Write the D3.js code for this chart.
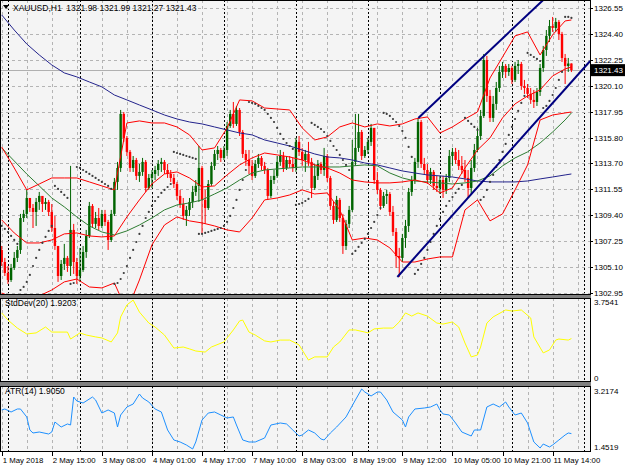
<!DOCTYPE html>
<html>
<head>
<meta charset="utf-8">
<title>XAUUSD,H1</title>
<script src="https://cdn.jsdelivr.net/npm/d3@7"></script>
<style>
  html, body { margin: 0; padding: 0; background: #ffffff; }
  #chart { display: block; }
  #chart text { font-family: "Liberation Sans", Arial, sans-serif; font-size: 8.5px; fill: #000; }
  #chart text.p { font-size: 8px; }
  #chart text.t { font-size: 7.8px; }
</style>
</head>
<body>
<svg id="chart" width="625" height="469"></svg>
<script>
/**
 * H1 candles, 1 May 22:00 .. 11 May 20:00 (open of a bar = close of the previous bar)
 */
const firstOpen = 1306.52;
const closes = [
  1305.52,1304.61,1304.03,1305.03,1305.86,1306.52,1309.17,1309.51,1310.83,1310.00,
  1309.67,1310.50,1311.00,1310.33,1310.50,1309.67,1308.34,1306.85,1304.36,1305.36,
  1305.86,1305.19,1308.18,1305.52,1304.36,1304.86,1306.35,1307.68,1310.17,1308.68,
  1309.17,1308.51,1309.51,1308.84,1307.35,1309.51,1312.16,1313.32,1317.80,1315.81,
  1314.65,1313.32,1313.98,1312.66,1312.99,1313.82,1311.66,1312.49,1312.82,1313.15,
  1313.65,1313.82,1313.15,1312.82,1312.49,1311.99,1311.00,1310.33,1309.34,1309.84,
  1310.50,1311.33,1311.83,1313.32,1310.67,1310.00,1311.99,1313.49,1314.48,1314.81,
  1314.15,1314.81,1316.80,1317.80,1316.97,1318.13,1316.30,1314.48,1313.98,1313.49,
  1312.66,1313.65,1314.15,1313.49,1313.15,1311.00,1312.32,1312.66,1313.82,1314.31,
  1313.32,1313.98,1313.65,1313.32,1315.48,1314.65,1313.98,1314.48,1313.82,1311.66,
  1312.66,1313.65,1313.15,1314.31,1312.49,1310.17,1309.01,1310.67,1309.17,1306.85,
  1308.68,1309.84,1313.82,1314.98,1316.30,1314.31,1314.81,1315.48,1316.64,1312.32,
  1311.50,1310.17,1311.00,1311.16,1309.67,1308.01,1306.02,1305.86,1307.51,1308.51,
  1311.33,1312.32,1313.82,1317.13,1313.65,1313.15,1312.32,1312.99,1311.83,1311.66,
  1312.32,1311.50,1312.49,1314.31,1314.65,1313.98,1313.49,1313.15,1312.49,1311.66,
  1313.32,1314.81,1315.97,1317.63,1322.27,1319.29,1317.47,1318.63,1319.95,1321.28,
  1321.78,1321.28,1321.61,1320.62,1321.78,1321.94,1320.12,1319.95,1319.46,1318.96,
  1318.79,1319.62,1321.61,1323.10,1324.27,1325.09,1324.93,1325.43,1324.43,1322.44,
  1321.78,1321.98,1321.43
];
const highs = [
  1306.85,1305.86,1305.19,1305.36,1306.35,1306.85,1309.51,1309.84,1311.50,1310.83,
  1310.33,1310.83,1311.33,1310.83,1310.83,1310.67,1310.33,1309.34,1306.85,1305.69,
  1307.02,1306.02,1313.49,1308.68,1305.86,1306.69,1306.85,1308.18,1310.50,1310.33,
  1309.67,1310.00,1309.84,1309.84,1309.01,1309.84,1312.49,1313.82,1318.13,1317.96,
  1315.97,1314.81,1314.31,1314.15,1313.65,1314.15,1313.98,1312.82,1313.15,1313.49,
  1313.98,1314.15,1313.98,1313.65,1313.15,1312.82,1312.16,1311.50,1310.83,1310.17,
  1310.83,1311.83,1312.32,1315.14,1313.49,1311.50,1312.32,1313.82,1314.81,1315.14,
  1314.98,1315.14,1317.13,1318.13,1318.79,1318.46,1318.29,1316.47,1314.81,1314.81,
  1313.98,1313.98,1314.48,1314.31,1313.82,1313.32,1312.66,1313.15,1314.31,1314.81,
  1314.65,1314.31,1314.31,1314.15,1315.81,1315.97,1314.98,1314.81,1315.48,1314.15,
  1313.65,1313.98,1313.82,1314.98,1314.48,1312.66,1310.50,1311.00,1310.83,1309.51,
  1309.01,1310.17,1315.64,1317.80,1317.80,1316.47,1315.14,1315.81,1316.97,1316.64,
  1312.99,1311.66,1311.33,1311.50,1311.33,1310.17,1308.34,1306.69,1307.85,1309.01,
  1311.66,1312.66,1314.15,1317.47,1317.30,1314.15,1313.65,1313.32,1313.15,1312.66,
  1312.66,1312.66,1312.82,1314.81,1314.98,1314.98,1314.81,1314.31,1313.98,1313.15,
  1313.98,1315.31,1316.64,1318.13,1322.77,1322.61,1319.79,1319.29,1320.45,1321.78,
  1322.11,1321.94,1321.94,1321.78,1322.11,1322.27,1322.11,1320.62,1320.28,1319.95,
  1319.79,1319.95,1321.94,1323.44,1324.76,1325.59,1325.84,1325.76,1325.59,1324.60,
  1322.77,1322.44,1321.99
];
const lows = [
  1305.19,1304.36,1303.70,1303.87,1304.86,1305.52,1306.19,1308.84,1309.17,1309.67,
  1308.34,1308.51,1309.84,1309.67,1309.84,1309.34,1308.01,1306.52,1303.87,1304.03,
  1304.86,1304.70,1304.36,1304.53,1303.70,1303.87,1304.70,1305.86,1307.51,1308.34,
  1308.34,1308.18,1308.34,1308.51,1306.52,1307.18,1309.34,1311.50,1312.99,1315.48,
  1314.31,1312.99,1312.99,1312.32,1312.16,1312.66,1311.33,1311.50,1311.66,1312.32,
  1312.66,1312.99,1312.82,1312.49,1312.16,1311.66,1310.67,1310.00,1309.01,1308.51,
  1309.34,1310.00,1311.00,1310.50,1307.85,1308.68,1309.84,1311.83,1313.15,1313.98,
  1313.82,1313.98,1314.31,1316.64,1316.64,1316.80,1315.97,1314.15,1313.49,1312.82,
  1312.32,1312.49,1313.32,1313.15,1312.82,1310.67,1310.83,1311.99,1312.49,1313.49,
  1312.99,1313.15,1313.32,1312.99,1312.99,1314.31,1313.49,1312.99,1313.49,1310.83,
  1311.50,1312.32,1312.82,1312.66,1312.16,1309.84,1308.68,1308.84,1308.84,1306.19,
  1306.52,1308.34,1309.67,1313.49,1314.65,1313.98,1314.15,1314.48,1315.14,1311.99,
  1311.16,1309.84,1310.00,1310.33,1309.34,1307.68,1305.03,1304.28,1305.52,1306.69,
  1308.01,1311.00,1311.99,1313.32,1313.32,1312.82,1311.99,1311.99,1311.50,1311.33,
  1311.16,1310.83,1311.16,1312.16,1313.49,1313.65,1313.15,1312.82,1312.16,1310.83,
  1311.16,1312.99,1314.65,1315.64,1317.47,1318.79,1317.13,1317.13,1318.13,1319.62,
  1320.78,1320.78,1320.95,1320.28,1320.45,1321.11,1319.79,1319.46,1319.12,1318.63,
  1318.29,1318.46,1319.29,1321.28,1322.61,1323.77,1324.60,1324.60,1323.93,1322.11,
  1320.28,1321.28,1321.27
];

/**
 * Parabolic SAR, one dot per bar
 */
const sar = [
  1308.51,1308.26,1308.01,1307.68,1307.35,1307.02,
  1303.20,1303.45,1303.87,1304.45,1305.19,1305.86,1306.52,1307.10,1307.60,1308.10,1308.51,
  1311.83,1311.58,1311.33,1311.08,1310.83,
  1303.70,1303.78,
  1313.40,1313.32,1313.15,1312.99,1312.82,1312.66,1312.49,1312.32,1312.16,1311.99,1311.83,1311.58,
  1303.70,1303.78,1304.11,1304.61,1305.19,1305.86,1306.52,1307.18,1307.85,1308.51,1309.17,1309.67,1310.17,1310.58,1310.91,1311.25,1311.50,1311.74,1311.99,
  1314.65,1314.56,1314.48,1314.40,1314.31,1314.23,1314.15,1314.07,
  1307.85,1307.85,1307.93,1308.01,1308.10,1308.18,1308.26,1308.34,1308.51,1308.84,1309.34,1310.00,1310.67,1311.50,1312.32,1313.15,
  1318.79,1318.71,1318.63,1318.46,1318.29,1318.13,1317.80,1317.47,1317.13,1316.64,1316.14,1315.72,1315.39,1315.14,1314.90,
  1310.25,1310.33,1310.42,1310.58,1310.75,
  1317.05,1316.89,1316.72,1316.55,1316.30,1315.97,1315.56,1315.14,1314.81,1314.40,1313.98,1313.57,1313.15,
  1306.19,1306.44,1306.77,1307.10,1307.43,1307.85,1308.34,1308.84,1309.42,1310.00,
  1317.88,1317.80,1317.63,1317.38,1317.13,1316.80,1316.39,1315.81,1315.06,1314.23,
  1304.53,1304.86,1305.36,1305.86,1306.52,1307.18,1307.85,1308.51,1309.09,1309.67,1310.17,1310.58,1310.91,1311.25,1311.58,1311.91,
  1317.47,1317.22,1316.97,1316.72,1316.47,
  1310.67,1310.91,1311.50,1312.16,1312.74,1313.40,1313.98,1314.65,1315.31,1316.06,1316.72,1317.38,1318.05,1318.71,1319.29,
  1322.86,1322.69,1322.52,1322.36,1322.19,
  1318.29,1318.46,1318.88,1319.37,1319.95,1320.62,1321.28,
  1325.84,1325.84,1325.76
];

/**
 * Indicator lines on the price pane, read every 4th bar
 */
const lineIdx = [0,4,8,12,16,20,24,28,32,36,40,44,48,52,56,60,64,68,72,76,80,84,88,92,
  96,100,104,108,112,116,120,124,128,132,136,140,144,148,152,156,160,164,168,172,176,180,182];
const ma200 = [
  1326.01,1324.76,1323.60,1322.69,1321.86,1321.20,1320.87,1320.45,1320.04,1319.37,
  1318.96,1318.54,1318.13,1317.71,1317.38,1317.13,1316.97,1316.72,1316.47,1316.22,
  1316.06,1315.64,1315.39,1315.14,1314.81,1314.48,1314.23,1314.15,1313.98,1313.73,
  1313.57,1313.32,1313.07,1312.90,1312.74,1312.66,1312.57,1312.41,1312.24,1312.16,
  1312.16,1312.16,1312.24,1312.41,1312.57,1312.74,1312.82
];
const ma50 = [
  1314.98,1313.90,1312.82,1311.83,1310.83,1310.09,1309.26,1308.51,1308.01,1307.76,
  1308.10,1308.59,1309.17,1309.84,1310.25,1310.42,1310.67,1311.16,1311.66,1312.32,
  1312.90,1313.15,1313.24,1313.32,1313.40,1313.40,1313.40,1313.40,1313.49,1313.57,
  1313.49,1312.90,1312.49,1312.24,1312.16,1312.08,1311.99,1312.08,1312.24,1312.66,
  1313.49,1314.15,1314.65,1315.39,1316.30,1317.30,1317.88
];
const bbUpper = [
  1315.06,1313.32,1311.50,1311.99,1312.49,1312.49,1312.49,1312.16,1311.83,1311.50,
  1317.05,1317.22,1317.05,1317.05,1316.72,1316.06,1314.81,1314.98,1316.64,1318.96,
  1318.88,1318.29,1318.21,1318.13,1316.64,1315.64,1315.89,1316.72,1317.05,1316.72,
  1316.97,1316.80,1316.97,1317.38,1317.55,1316.22,1316.72,1317.38,1317.96,1320.78,
  1322.52,1324.27,1324.60,1322.69,1324.35,1325.51,1325.59
];
const bbMiddle = [
  1309.01,1307.93,1307.10,1307.10,1307.35,1307.85,1307.93,1307.68,1307.60,1307.68,
  1309.26,1310.67,1311.99,1312.82,1312.99,1312.49,1311.74,1311.83,1312.74,1313.57,
  1314.15,1314.56,1314.40,1314.23,1313.98,1313.57,1313.32,1312.90,1312.32,1312.16,
  1312.08,1312.08,1312.16,1312.32,1312.08,1311.25,1311.66,1313.32,1314.81,1315.81,
  1317.47,1318.63,1319.29,1319.79,1320.95,1321.53,1321.69
];
const bbLower = [
  1302.95,1302.54,1302.71,1302.71,1303.20,1303.87,1304.11,1303.45,1303.37,1303.78,
  1301.46,1304.03,1306.94,1308.59,1309.26,1308.93,1308.76,1308.51,1308.18,1308.01,
  1309.17,1310.67,1310.83,1311.08,1311.50,1311.16,1311.25,1309.84,1307.35,1307.51,
  1307.35,1306.69,1305.52,1305.52,1305.77,1305.94,1305.94,1309.84,1310.67,1308.93,
  1309.51,1311.50,1313.57,1317.30,1317.71,1317.88,1317.96
];

/**
 * Two hand drawn trend lines: [bar, price] anchors
 */
const trendLower = [[126.4, 1304.28], [188, 1322.19]];
const trendUpper = [[133.1, 1317.47], [173, 1327.25]];

/**
 * StdDev(20) and ATR(14) sub windows
 */
const sdIdx = [0,2,5,8,11,14,16,18,21,22,25,27,30,32,35,37,38,40,42,44,47,49,52,55,58,60,62,65,67,71,
  74,76,77,79,81,84,86,89,92,95,97,98,100,104,106,108,111,113,116,117,119,122,125,127,129,131,133,136,
  139,141,144,146,148,150,152,153,155,157,161,163,166,169,170,173,175,177,178,181,182];
const sdVal = [3.14,2.80,2.42,2.14,2.19,2.47,2.23,2.23,2.23,1.90,2.19,2.09,2.00,1.95,1.76,2.19,2.95,3.52,3.75,3.18,
  2.66,2.47,2.09,1.47,1.52,1.43,1.33,1.28,1.52,1.76,2.33,2.76,2.80,2.23,2.09,1.81,1.76,1.85,1.85,1.62,
  1.14,0.90,1.05,1.05,1.52,1.76,2.33,2.33,2.23,2.19,2.38,2.42,2.42,2.71,3.14,2.99,3.14,2.99,2.66,2.61,
  2.71,2.47,1.71,1.05,1.14,1.52,2.66,2.95,3.28,3.23,3.28,2.90,2.00,1.24,1.38,1.85,1.90,1.85,1.9203];
const atrIdx = [0,1,3,5,6,8,9,10,12,15,16,17,19,21,22,23,24,26,29,30,32,34,36,37,38,40,42,44,45,47,
  49,51,53,55,57,59,61,62,64,66,68,70,72,74,75,77,79,81,84,86,89,91,93,95,96,98,100,102,103,105,
  107,110,113,115,116,118,120,121,123,125,128,129,130,132,135,137,139,140,141,143,145,147,150,151,153,155,
  157,159,161,162,164,166,168,170,172,173,175,176,178,180,181,182];
const atrVal = [2.600,2.629,2.541,2.629,2.629,2.394,2.011,1.923,1.952,1.893,1.952,2.246,2.099,2.188,2.158,2.982,
  2.864,2.805,2.982,2.894,2.511,2.600,2.511,2.099,2.452,2.688,2.776,3.070,2.953,2.835,2.629,2.541,2.011,
  1.717,1.658,1.570,1.4519,1.658,2.305,2.511,2.541,2.452,2.364,2.394,2.158,1.717,1.658,1.658,1.776,2.158,
  2.217,2.188,2.011,1.834,1.864,2.011,1.923,1.746,1.717,1.923,2.099,2.394,2.894,3.2174,3.129,3.011,3.129,
  3.129,2.894,2.541,2.305,2.099,2.394,2.629,2.658,2.688,2.776,2.600,2.482,2.452,2.217,1.952,1.834,2.011,
  2.011,2.688,2.776,2.688,2.835,2.688,2.452,2.511,2.217,1.658,1.481,1.599,1.511,1.570,1.717,1.864,1.923,1.905];

/**
 * Axis labels
 */
const priceTicks = [1326.55,1324.40,1322.25,1320.10,1317.95,1315.80,1313.70,1311.55,1309.40,1307.25,1305.10,1302.95];
const timeLabels = ["1 May 2018","2 May 15:00","3 May 08:00","4 May 01:00","4 May 17:00","7 May 10:00",
  "8 May 03:00","8 May 19:00","9 May 12:00","10 May 05:00","10 May 21:00","11 May 14:00"];
const timeIdx = [0,16,32,48,64,80,96,112,128,144,160,176];
const dayIdx = [2,25,48,71,94,117,140,163,186];
const lastBar = { open: 1321.98, high: 1321.99, low: 1321.27, close: 1321.43 };

const svg = d3.select("#chart");
const plotRight = 590;
const panes = {
  main: { top: 0, bottom: 295 },
  std: { top: 298, bottom: 382 },
  atr: { top: 386, bottom: 452 }
};
const colors = {
  bg: "#f4f4f4", grid: "#b4b4b4", bull: "#006400", bear: "#ff0000",
  bb: "#ff0000", ma200: "#23238c", ma50: "#2e7d32", sar: "#3c3c3c",
  trend: "#000080", std: "#ffff00", atr: "#1e90ff"
};

const x = d3.scaleLinear().domain([0, closes.length - 1]).range([1.7, 571.4]);
const yMain = d3.scaleLinear().domain([1302.95, 1326.55]).range([293, 8.4]);
const yStd = d3.scaleLinear().domain([0, 3.7541]).range([379, 300]);
const yAtr = d3.scaleLinear().domain([1.4519, 3.2174]).range([449, 389]);
const opens = closes.map((c, i) => (i === 0 ? firstOpen : closes[i - 1]));

// pane backgrounds and clip paths
const defs = svg.append("defs");
Object.entries(panes).forEach(([name, p]) => {
  svg.append("rect").attr("x", 0).attr("y", p.top).attr("width", plotRight)
    .attr("height", p.bottom - p.top).attr("fill", colors.bg);
  defs.append("clipPath").attr("id", "clip-" + name).append("rect")
    .attr("x", 0).attr("y", p.top).attr("width", plotRight).attr("height", p.bottom - p.top);
});

// vertical grid + period separators go through every pane
const gridIdx = d3.range(0, 185, 8);
Object.values(panes).forEach(p => {
  svg.append("g").selectAll("line").data(gridIdx).join("line")
    .attr("x1", d => Math.round(x(d)) + 0.5).attr("x2", d => Math.round(x(d)) + 0.5)
    .attr("y1", p.top).attr("y2", p.bottom)
    .attr("stroke", colors.grid).attr("stroke-dasharray", "3,3");
  svg.append("g").selectAll("line").data(dayIdx).join("line")
    .attr("x1", d => Math.round(x(d)) + 0.5).attr("x2", d => Math.round(x(d)) + 0.5)
    .attr("y1", p.top).attr("y2", p.bottom)
    .attr("stroke", "#000").attr("stroke-dasharray", "2,2");
});

svg.append("g").selectAll("line").data(priceTicks).join("line")
  .attr("x1", 0).attr("x2", plotRight)
  .attr("y1", d => Math.round(yMain(d)) + 0.5).attr("y2", d => Math.round(yMain(d)) + 0.5)
  .attr("stroke", colors.grid).attr("stroke-dasharray", "3,3");

const main = svg.append("g").attr("clip-path", "url(#clip-main)");

// bid line
main.append("line").attr("x1", 0).attr("x2", plotRight)
  .attr("y1", Math.round(yMain(lastBar.close)) + 0.5).attr("y2", Math.round(yMain(lastBar.close)) + 0.5)
  .attr("stroke", "#b0b0b0");

// candles
const bars = d3.range(closes.length).map(i => ({
  i, o: opens[i], h: highs[i], l: lows[i], c: closes[i], up: closes[i] >= opens[i]
}));
const cg = main.append("g");
cg.selectAll("line").data(bars).join("line")
  .attr("x1", d => x(d.i)).attr("x2", d => x(d.i))
  .attr("y1", d => yMain(d.h)).attr("y2", d => yMain(d.l))
  .attr("stroke", d => d.up ? colors.bull : colors.bear).attr("stroke-width", 1);
cg.selectAll("rect").data(bars).join("rect")
  .attr("x", d => x(d.i) - 1.2).attr("width", 2.4)
  .attr("y", d => yMain(Math.max(d.o, d.c)))
  .attr("height", d => Math.max(1, Math.abs(yMain(d.o) - yMain(d.c))))
  .attr("fill", d => d.up ? colors.bull : colors.bear);

// indicator lines
const priceLine = vals => d3.line().x((d, k) => x(lineIdx[k])).y(d => yMain(d))(vals);
[[ma200, colors.ma200], [ma50, colors.ma50], [bbUpper, colors.bb], [bbMiddle, colors.bb], [bbLower, colors.bb]]
  .forEach(([vals, col]) => {
    main.append("path").attr("d", priceLine(vals)).attr("fill", "none")
      .attr("stroke", col).attr("stroke-width", 1);
  });

// parabolic SAR
main.append("g").selectAll("circle").data(sar).join("circle")
  .attr("cx", (d, i) => x(i)).attr("cy", d => yMain(d)).attr("r", 1.1)
  .attr("fill", colors.sar);

// trend lines
[trendLower, trendUpper].forEach(t => {
  main.append("line")
    .attr("x1", x(t[0][0])).attr("y1", yMain(t[0][1]))
    .attr("x2", x(t[1][0])).attr("y2", yMain(t[1][1]))
    .attr("stroke", colors.trend).attr("stroke-width", 2);
});

// StdDev pane
svg.append("path").attr("clip-path", "url(#clip-std)")
  .attr("d", d3.line().x((d, k) => x(sdIdx[k])).y(d => yStd(d))(sdVal))
  .attr("fill", "none").attr("stroke", colors.std).attr("stroke-width", 1);

// ATR pane
svg.append("path").attr("clip-path", "url(#clip-atr)")
  .attr("d", d3.line().x((d, k) => x(atrIdx[k])).y(d => yAtr(d))(atrVal))
  .attr("fill", "none").attr("stroke", colors.atr).attr("stroke-width", 1);

// pane frames and separators
svg.append("rect").attr("x", 0).attr("y", 295).attr("width", plotRight + 1).attr("height", 3).attr("fill", "#808080");
svg.append("rect").attr("x", 0).attr("y", 382).attr("width", plotRight + 1).attr("height", 4).attr("fill", "#808080");
Object.values(panes).forEach(p => {
  svg.append("rect").attr("x", 0.5).attr("y", p.top + 0.5).attr("width", plotRight)
    .attr("height", p.bottom - p.top - 1).attr("fill", "none").attr("stroke", "#000");
});

// price axis
const axis = svg.append("g");
axis.selectAll("text.p").data(priceTicks).join("text").attr("class", "p")
  .attr("x", 594).attr("y", d => yMain(d)).attr("dy", "0.35em").text(d => d.toFixed(2));
axis.selectAll("line.p").data(priceTicks).join("line").attr("class", "p")
  .attr("x1", plotRight).attr("x2", plotRight + 3)
  .attr("y1", d => Math.round(yMain(d)) + 0.5).attr("y2", d => Math.round(yMain(d)) + 0.5).attr("stroke", "#000");

// bid label
const by = yMain(lastBar.close);
axis.append("rect").attr("x", plotRight + 1).attr("y", by - 6).attr("width", 34).attr("height", 12).attr("fill", "#000");
axis.append("text").attr("class", "p").attr("x", 594).attr("y", by).attr("dy", "0.35em").style("fill", "#fff")
  .text(lastBar.close.toFixed(2));

// sub window scale labels
[[302, "3.7541"], [378, "0"], [391, "3.2174"], [447, "1.4519"]].forEach(([yy, t]) => {
  axis.append("text").attr("class", "p").attr("x", 594).attr("y", yy).attr("dy", "0.35em").text(t);
});

// time axis
axis.selectAll("text.t").data(timeLabels).join("text").attr("class", "t")
  .attr("x", (d, k) => x(timeIdx[k]) + 1).attr("y", 460).attr("dy", "0.35em").text(d => d);
axis.selectAll("line.t").data(timeIdx).join("line").attr("class", "t")
  .attr("x1", d => Math.round(x(d)) + 0.5).attr("x2", d => Math.round(x(d)) + 0.5)
  .attr("y1", 452).attr("y2", 456).attr("stroke", "#000");

// header and indicator captions
svg.append("path").attr("d", "M3,5 L9,5 L6,9 Z").attr("fill", "#000");
svg.append("text").attr("x", 13).attr("y", 8).attr("dy", "0.35em").attr("xml:space", "preserve")
  .text(`XAUUSD,H1  ${lastBar.open.toFixed(2)} ${lastBar.high.toFixed(2)} ${lastBar.low.toFixed(2)} ${lastBar.close.toFixed(2)}`);
svg.append("text").attr("x", 5).attr("y", 303).attr("dy", "0.35em").text("StdDev(20) 1.9203");
svg.append("text").attr("x", 5).attr("y", 391).attr("dy", "0.35em").text("ATR(14) 1.9050");
</script>
</body>
</html>
